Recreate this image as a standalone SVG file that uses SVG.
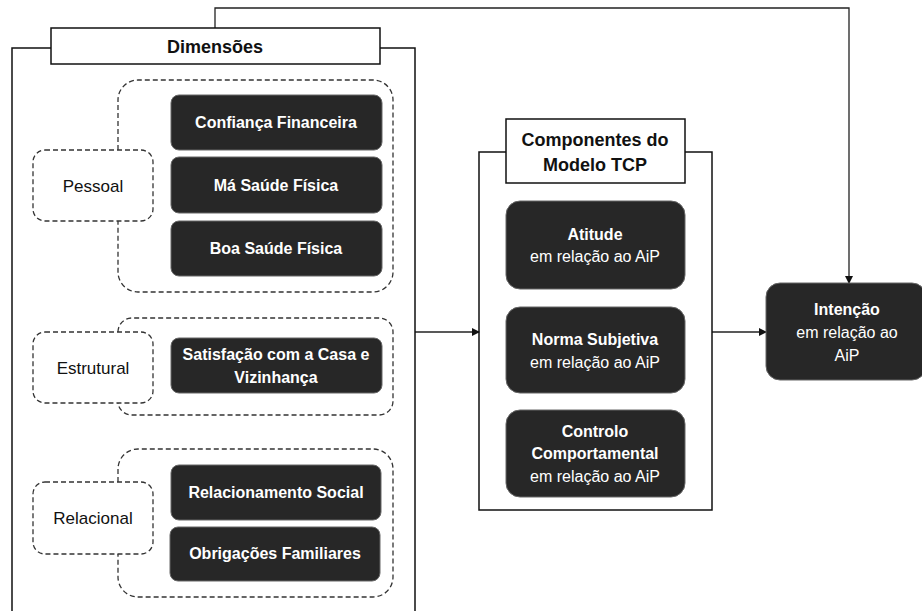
<svg xmlns="http://www.w3.org/2000/svg" width="922" height="611" viewBox="0 0 922 611">
<style>
.frame{fill:none;stroke:#111;stroke-width:1.5}
.hdr{fill:#fff;stroke:#111;stroke-width:1.5}
.dash{fill:none;stroke:#333;stroke-width:1.3;stroke-dasharray:5 3}
.dashw{fill:#fff;stroke:#333;stroke-width:1.3;stroke-dasharray:5 3}
.dark{fill:#272727;stroke:#666;stroke-width:1}
.tb{font-family:"Liberation Sans",Arial,sans-serif;font-weight:bold;font-size:16px;fill:#fff;text-anchor:middle}
.tr{font-family:"Liberation Sans",Arial,sans-serif;font-size:16px;fill:#fff;text-anchor:middle}
.th{font-family:"Liberation Sans",Arial,sans-serif;font-weight:bold;font-size:18px;fill:#111;text-anchor:middle}
.tl{font-family:"Liberation Sans",Arial,sans-serif;font-size:17px;fill:#111;text-anchor:middle}
.conn{fill:none;stroke:#222;stroke-width:1.3}
</style>
<defs>
<marker id="arr" markerWidth="8" markerHeight="8" refX="7" refY="4" orient="auto" markerUnits="userSpaceOnUse">
<path d="M0,0 L8,4 L0,8 Z" fill="#111"/>
</marker>
</defs>
<rect width="922" height="611" fill="#fff"/>
<g id="connectors">
<path class="conn" d="M215,28 V8 H849 V283" marker-end="url(#arr)"/>
<path class="conn" d="M415,332 H479" marker-end="url(#arr)"/>
<path class="conn" d="M712,332 H766" marker-end="url(#arr)"/>
</g>
<g id="dimensoes">
<path class="frame" d="M51,48 H12 V611 M380,48 H415 V611"/>
<rect class="hdr" x="51" y="28" width="329" height="36"/>
<text class="th" x="215" y="53">Dimensões</text>
</g>
<g id="pessoal">
<path class="dash" d="M118,150 V100 A20,20 0 0 1 138,80 H373 A20,20 0 0 1 393,100 V272 A20,20 0 0 1 373,292 H138 A20,20 0 0 1 118,272 V221"/>
<rect class="dashw" x="33" y="150" width="120" height="71" rx="12"/>
<text class="tl" x="93" y="192">Pessoal</text>
</g>
<g id="confianca"><rect class="dark" x="171" y="95" width="211" height="55" rx="8"/><text class="tb" x="276" y="128">Confiança Financeira</text></g>
<g id="ma-saude"><rect class="dark" x="171" y="157" width="211" height="56" rx="8"/><text class="tb" x="276" y="191">Má Saúde Física</text></g>
<g id="boa-saude"><rect class="dark" x="171" y="221" width="211" height="55" rx="8"/><text class="tb" x="276" y="254">Boa Saúde Física</text></g>
<g id="estrutural">
<path class="dash" d="M118,332 A14,14 0 0 1 132,318 H379 A14,14 0 0 1 393,332 V401 A14,14 0 0 1 379,415 H132 A14,14 0 0 1 118,403"/>
<rect class="dashw" x="33" y="332" width="120" height="71" rx="12"/>
<text class="tl" x="93" y="374">Estrutural</text>
</g>
<g id="satisfacao"><rect class="dark" x="171" y="338" width="211" height="55" rx="8"/><text class="tb" x="276" y="360">Satisfação com a Casa e</text><text class="tb" x="276" y="383">Vizinhança</text></g>
<g id="relacional">
<path class="dash" d="M118,482 V469 A20,20 0 0 1 138,449 H373 A20,20 0 0 1 393,469 V577 A20,20 0 0 1 373,597 H138 A20,20 0 0 1 118,577 V554"/>
<rect class="dashw" x="33" y="482" width="120" height="72" rx="12"/>
<text class="tl" x="93" y="524">Relacional</text>
</g>
<g id="relacionamento"><rect class="dark" x="171" y="465" width="210" height="55" rx="8"/><text class="tb" x="276" y="498">Relacionamento Social</text></g>
<g id="obrigacoes"><rect class="dark" x="170" y="527" width="210" height="54" rx="8"/><text class="tb" x="275" y="559">Obrigações Familiares</text></g>
<g id="componentes">
<rect class="frame" x="479" y="152" width="233" height="358"/>
<rect class="hdr" x="506" y="119" width="179" height="64"/>
<text class="th" x="595" y="146">Componentes do</text>
<text class="th" x="595" y="171">Modelo TCP</text>
</g>
<g id="atitude"><rect class="dark" x="506" y="201" width="179" height="88" rx="14"/><text class="tb" x="595" y="240">Atitude</text><text class="tr" x="595" y="262">em relação ao AiP</text></g>
<g id="norma"><rect class="dark" x="506" y="307" width="179" height="86" rx="14"/><text class="tb" x="595" y="345">Norma Subjetiva</text><text class="tr" x="595" y="368">em relação ao AiP</text></g>
<g id="controlo"><rect class="dark" x="506" y="410" width="179" height="87" rx="14"/><text class="tb" x="595" y="437">Controlo</text><text class="tb" x="595" y="459">Comportamental</text><text class="tr" x="595" y="482">em relação ao AiP</text></g>
<g id="intencao"><rect class="dark" x="766" y="283" width="160" height="97" rx="14"/><text class="tb" x="847" y="315">Intenção</text><text class="tr" x="847" y="338">em relação ao</text><text class="tr" x="847" y="361">AiP</text></g>
</svg>
